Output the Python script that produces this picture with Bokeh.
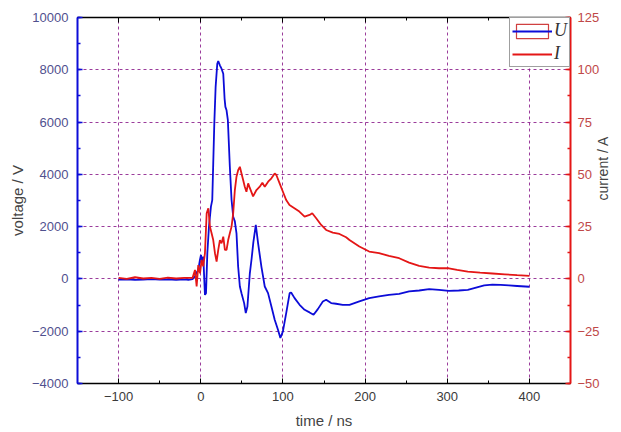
import math
from bokeh.plotting import figure
from bokeh.models import (Range1d, LinearAxis, SingleIntervalTicker, Legend, LegendItem,
                          CustomLabelingPolicy)
from bokeh.embed import file_html
from bokeh.resources import INLINE

# ---- data ----
t_u = [-100, -90, -80, -70, -60, -50, -40, -30, -20, -15, -10, -7, -5, -3, -1, 0.3, 1.9, 3.1,
       5.1, 6.4, 8, 10, 12.4, 14, 15.2, 16.5, 18.1, 20.1, 21.3, 23.3, 25.3, 27.4, 29, 30, 31.4,
       33, 35.4, 37.5, 39.5, 41.5, 43.5, 45.5, 47.6, 49.6, 52.8, 54.8, 56.8, 59.7, 62, 64, 67,
       69.8, 73.8, 77.9, 81.9, 86, 90, 94, 96.9, 100, 104, 108.2, 110, 114.2, 120.3, 126.4,
       132.4, 137.3, 142.5, 148.6, 152.6, 158.7, 164.7, 172.8, 181, 193, 205, 217, 229, 241.5,
       253.6, 265.8, 278, 290, 302, 314, 325, 335, 345, 355, 365, 375, 385, 395, 400]
u_volt = [-30, -20, -40, -30, -10, -30, -20, -40, -20, -40, -10, 100, 250, 346, 728, 918, 600, 855,
          -610, -545, 982, 2000, 2763, 3017, 4416, 5943, 7342, 8233, 8334, 8169, 8042, 7850, 6900, 6580, 6450,
          6070, 4290, 3020, 2380, 2200, 1745, 474, -290, -545, -925, -1308, -1053, 200, 800, 1400, 2064,
          1364, 474, -290, -544, -1052, -1561, -1943, -2260, -2006, -1307, -544, -518, -734, -989, -1180,
          -1281, -1370, -1155, -862, -798, -925, -950, -989, -989, -862, -735, -671, -607, -570,
          -480, -442, -391, -416, -455, -442, -420, -330, -250, -220, -230, -250, -270, -290, -300]

t_i = [-100, -90, -80, -70, -60, -50, -40, -30, -20, -10, -7, -5, -3, -0.9, 1.1, 3, 5.1, 7.2, 9.2,
       11.2, 13.2, 15.2, 17.3, 19.3, 21.3, 23.3, 25.3, 27.4, 29.4, 31.4, 33.4, 35.4, 37.5, 39.5,
       41.5, 43.5, 45.5, 47.6, 49.6, 51.6, 53.6, 55.6, 57.7, 59.7, 63.7, 67.8, 71.8, 75, 77.9, 82,
       86, 90, 92, 96, 100, 104, 108, 114, 120, 126.4, 132.4, 135.7, 140.5, 146.6, 152.6, 160.7,
       168.8, 176.9, 181, 193, 205, 217, 229, 241.5, 253.6, 265.8, 278, 290, 302, 312, 325, 340,
       355, 370, 385, 400]
i_amp = [0.5, 0, 0.8, 0.2, 0.5, 0, 0.6, 0.2, 0.5, 0.5, 4.3, -3.6, 6.6, 2.7, 9.1, 6, 12.3, 31.4, 33.8,
         25, 21.8, 18.6, 12.3, 8.3, 13.9, 18.6, 17, 20.2, 13.9, 13.9, 18.6, 21.8, 25, 31.4,
         42.5, 48.9, 52, 53.6, 50.4, 47.3, 44.1, 41.7, 45.7, 43.5, 39.5, 42.5, 44.1, 46, 44.1, 46.5,
         48.1, 50.4, 49.7, 45.7, 41.7, 37.7, 35.3, 33.8, 32.2, 29.8, 30.6, 31.4, 29, 25.8, 23.4, 22.1,
         21.5, 19.9, 18.6, 15.5, 13.1, 12.3, 11.0, 9.9, 7.8, 6.2, 5.4, 5.1, 5.1, 4.3, 3.5, 3.0,
         2.6, 2.2, 1.8, 1.5]

x_label = "time / ns"
v_label = "voltage / V"
i_label = "current / A"
series_names = ["U", "I"]

BLUE = "#0c0cd8"
RED = "#e41616"
GRID = "#8a1a8a"
FONT = "Liberation Sans"

p = figure(width=621, height=431, x_range=Range1d(-150, 450), y_range=Range1d(-4000, 10000),
           output_backend="svg", toolbar_location=None,
           min_border_left=77, min_border_right=49, min_border_top=17, min_border_bottom=47)
p.extra_y_ranges = {"cur": Range1d(-50, 125)}
p.outline_line_color = "black"
p.background_fill_color = "white"

# x axis (bottom)
xa = p.xaxis[0]
xa.ticker = SingleIntervalTicker(interval=100, num_minor_ticks=2)
xa.axis_label = x_label
xa.axis_label_text_font = FONT
xa.axis_label_text_font_style = "normal"
xa.axis_label_text_font_size = "15px"
xa.axis_label_standoff = 8
xa.major_label_text_font = FONT
xa.major_label_text_font_size = "13px"
xa.major_label_text_color = "#3a3a3a"
xa.major_label_standoff = 8
xa.axis_line_color = "black"
xa.axis_line_width = 1.5
xa.major_tick_in = 5
xa.major_tick_out = 0
xa.minor_tick_in = 3
xa.minor_tick_out = 0
xa.major_tick_line_color = "black"
xa.minor_tick_line_color = "black"

# left axis (voltage)
ya = p.yaxis[0]
ya.ticker = SingleIntervalTicker(interval=2000, num_minor_ticks=2)
ya.axis_label = v_label
ya.axis_label_text_font = FONT
ya.axis_label_text_font_style = "normal"
ya.axis_label_text_font_size = "15px"
ya.axis_label_standoff = 3
ya.major_label_text_font = FONT
ya.major_label_text_font_size = "13px"
ya.major_label_text_color = "#50508e"
ya.major_label_standoff = 9
ya.axis_line_color = BLUE
ya.axis_line_width = 2
ya.major_tick_in = 5
ya.major_tick_out = 0
ya.minor_tick_in = 3
ya.minor_tick_out = 0
ya.major_tick_line_color = BLUE
ya.minor_tick_line_color = BLUE
ya.major_tick_line_width = 1.5
ya.minor_tick_line_width = 1.5

# right axis (current)
ra = LinearAxis(y_range_name="cur", ticker=SingleIntervalTicker(interval=25, num_minor_ticks=2))
ra.axis_label = i_label
ra.axis_label_text_font = FONT
ra.axis_label_text_font_style = "normal"
ra.axis_label_text_font_size = "14px"
ra.axis_label_standoff = 0
ra.axis_label_orientation = math.pi / 2
ra.major_label_text_font = FONT
ra.major_label_text_font_size = "13px"
ra.major_label_text_color = "#c04848"
ra.major_label_standoff = 7
ra.axis_line_color = RED
ra.axis_line_width = 2
ra.major_tick_in = 5
ra.major_tick_out = 0
ra.minor_tick_in = 3
ra.minor_tick_out = 0
ra.major_tick_line_color = RED
ra.minor_tick_line_color = RED
ra.major_tick_line_width = 1.5
ra.minor_tick_line_width = 1.5
p.add_layout(ra, "right")

# top axis (ticks only, no labels)
ta = LinearAxis(ticker=SingleIntervalTicker(interval=100, num_minor_ticks=2))
ta.major_label_policy = CustomLabelingPolicy(code="""
for (let i = 0; i < indices.size; i++) { indices.unset(i) }
return indices
""")
ta.major_label_standoff = 0
ta.axis_line_color = "black"
ta.axis_line_width = 1.5
ta.major_tick_in = 5
ta.major_tick_out = 0
ta.minor_tick_in = 3
ta.minor_tick_out = 0
ta.major_tick_line_color = "black"
ta.minor_tick_line_color = "black"
p.add_layout(ta, "above")

# grid
p.xgrid.ticker = xa.ticker
p.ygrid.ticker = ya.ticker
for g in (p.xgrid, p.ygrid):
    g.grid_line_color = GRID
    g.grid_line_dash = "3 3"
    g.grid_line_width = 1
    g.grid_line_alpha = 0.85

# data lines
r_u = p.line(t_u, u_volt, line_color=BLUE, line_width=1.8)
r_i = p.line(t_i, i_amp, line_color=RED, line_width=1.8, y_range_name="cur")
# legend-only frame around the U sample (a NaN point, never drawn in the plot)
r_box = p.rect(x=[float("nan")], y=[float("nan")], width=1, height=1,
               fill_color=None, line_color="#d04040", line_width=1.2)

legend = Legend(items=[LegendItem(label=series_names[0], renderers=[r_box, r_u]),
                       LegendItem(label=series_names[1], renderers=[r_i])],
                location="top_right", margin=0, padding=2, spacing=2,
                glyph_width=40, glyph_height=18, label_standoff=2,
                label_width=12, label_height=18,
                label_text_font="Liberation Serif", label_text_font_style="italic",
                label_text_font_size="18px", label_text_color="#333333",
                border_line_color="#404040", border_line_width=1,
                background_fill_color="white", background_fill_alpha=1)
p.add_layout(legend, "center")

open("out.html", "w").write(file_html(p, INLINE))
